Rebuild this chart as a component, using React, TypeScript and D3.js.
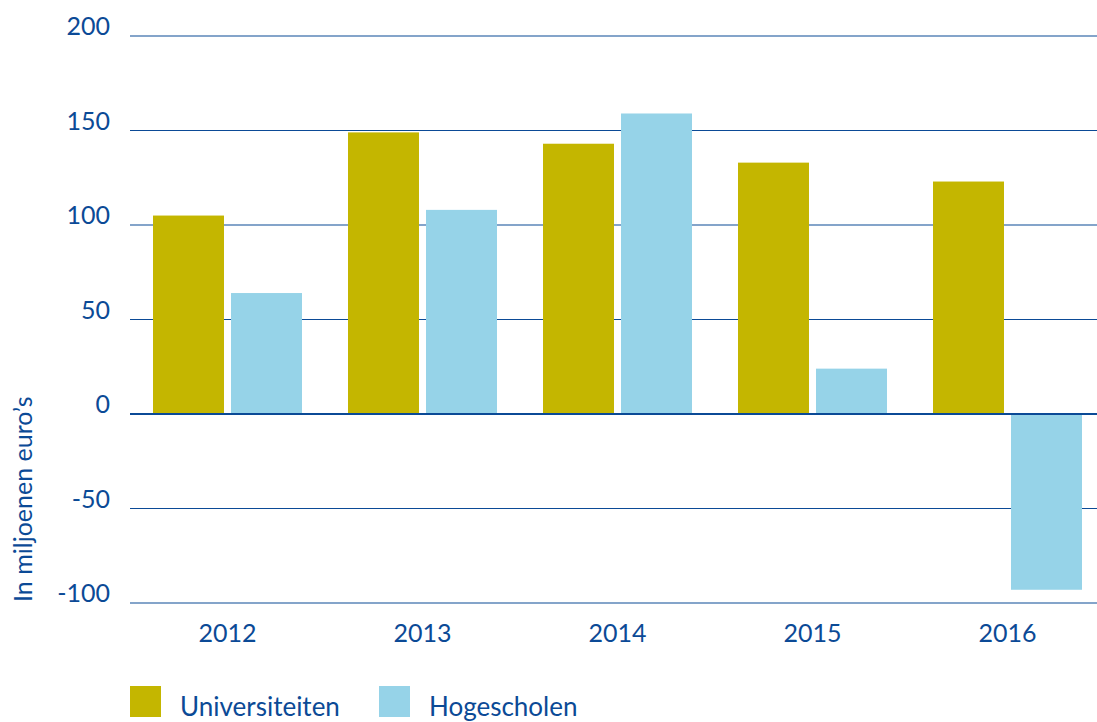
import React from "react";
import * as d3 from "d3";

const years = ["2012", "2013", "2014", "2015", "2016"];
const seriesNames = ["Universiteiten", "Hogescholen"];
const universiteiten = [105, 149, 143, 133, 123];
const hogescholen = [64, 108, 159, 24, -93];
const yTicks = [200, 150, 100, 50, 0, -50, -100];
const colors = ["#c4b600", "#96d3e8"];

const W = 1097;
const H = 722;
const TEXT = "#0b4a96";
const FONT = "Lato, 'Open Sans', sans-serif";

export default function App() {
  const x = d3.scaleBand<string>().domain(years).range([130, 1105]).padding(0);
  const inner = d3
    .scaleBand<string>()
    .domain(seriesNames)
    .range([23, 172])
    .paddingInner(0.09);
  const y = d3.scaleLinear().domain([-100, 200]).range([603, 36]);
  const values = [universiteiten, hogescholen];

  return (
    <svg
      width={W}
      height={H}
      style={{ position: "absolute", left: 0, top: 0, background: "#fff" }}
      fontFamily={FONT}
    >
      {yTicks.map((t) => (
        <g key={t}>
          <line
            x1={130}
            x2={W}
            y1={y(t)}
            y2={y(t)}
            stroke={TEXT}
            strokeWidth={t === 0 ? 2 : 1.2}
          />
          <text
            x={110}
            y={y(t) - 1}
            textAnchor="end"
            fontSize={25}
            fill={TEXT}
          >
            {t}
          </text>
        </g>
      ))}
      {years.map((yr, i) =>
        seriesNames.map((s, j) => {
          const v = values[j][i];
          const x0 = (x(yr) as number) + (inner(s) as number);
          return (
            <rect
              key={yr + s}
              x={x0}
              y={y(Math.max(0, v))}
              width={inner.bandwidth()}
              height={Math.abs(y(v) - y(0))}
              fill={colors[j]}
            />
          );
        })
      )}
      <line x1={130} x2={W} y1={y(0)} y2={y(0)} stroke={TEXT} strokeWidth={2} />
      {years.map((yr) => (
        <text
          key={yr}
          x={(x(yr) as number) + x.bandwidth() / 2}
          y={642}
          textAnchor="middle"
          fontSize={25}
          fill={TEXT}
        >
          {yr}
        </text>
      ))}
      <text
        transform="translate(32,602) rotate(-90)"
        fontSize={25}
        fill={TEXT}
        textAnchor="start"
      >
        In miljoenen euro’s
      </text>
      {seriesNames.map((s, j) => {
        const lx = j === 0 ? 130 : 379;
        return (
          <g key={s}>
            <rect x={lx} y={686} width={31} height={31} fill={colors[j]} />
            <text x={lx + 50} y={716} fontSize={26} fill={TEXT}>
              {s}
            </text>
          </g>
        );
      })}
    </svg>
  );
}
